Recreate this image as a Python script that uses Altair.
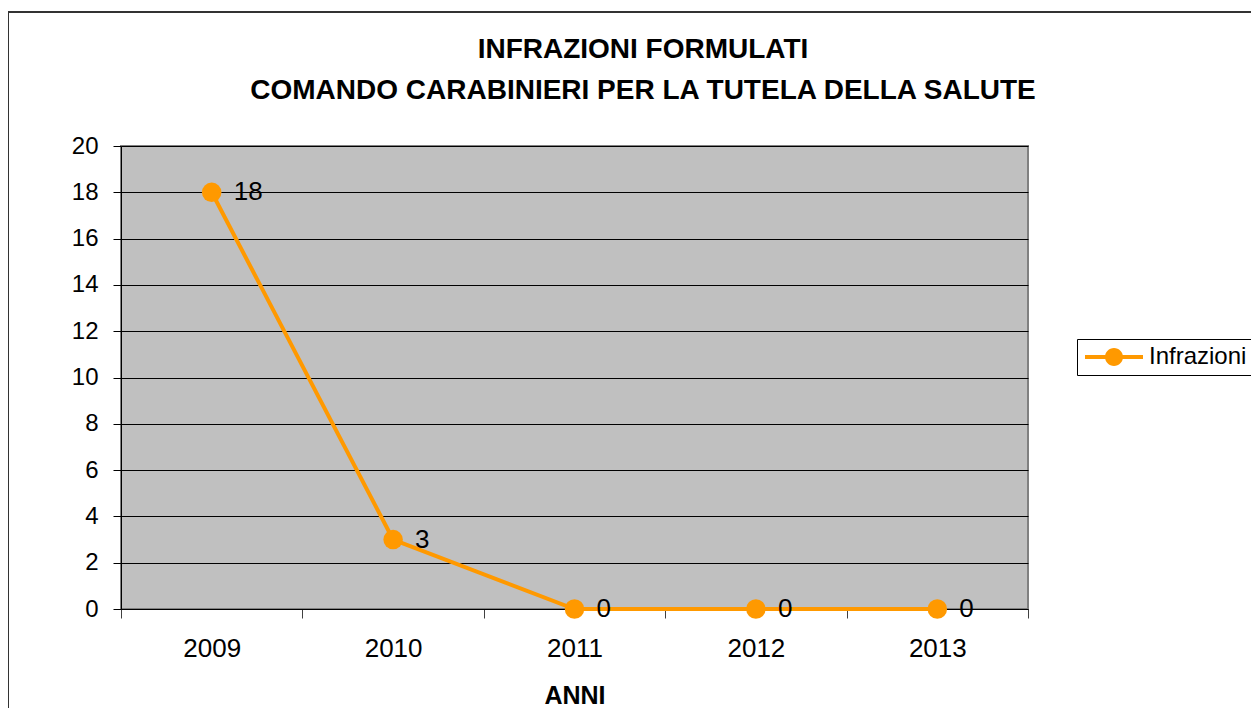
import altair as alt
import pandas as pd

years = ["2009", "2010", "2011", "2012", "2013"]
values = [18, 3, 0, 0, 0]
series_name = "Infrazioni"
title_lines = ["INFRAZIONI FORMULATI", "COMANDO CARABINIERI PER LA TUTELA DELLA SALUTE"]
x_title = "ANNI"
y_ticks = [0, 2, 4, 6, 8, 10, 12, 14, 16, 18, 20]

FONT = "Liberation Sans"
ORANGE = "#FF9900"

df = pd.DataFrame({"anno": years, "valore": values, "serie": [series_name] * len(years)})

x_enc = alt.X(
    "anno:O",
    sort=years,
    scale=alt.Scale(type="band", paddingInner=0, paddingOuter=0),
    axis=alt.Axis(
        title=x_title, labelAngle=0, tickBand="extent", tickSize=9, labelPadding=17,
        labelFontSize=26, titleFontSize=25, titleFontWeight="bold",
        titleBaseline="alphabetic", titleY=94,
        domainColor="#000000", tickColor="#404040", labelColor="#000000", titleColor="#000000",
        labelFont=FONT, titleFont=FONT, grid=False,
    ),
)
y_enc = alt.Y(
    "valore:Q",
    scale=alt.Scale(domain=[0, 20], nice=False),
    axis=alt.Axis(
        values=y_ticks, title=None, tickSize=8, labelPadding=15, labelFontSize=24,
        labelFont=FONT, labelColor="#000000", grid=True, gridColor="#000000", gridWidth=1,
        domainColor="#000000", tickColor="#000000",
    ),
)

SYMBOL = "M-1,-0.2 L4.8,-0.2 L4.8,0.2 L-1,0.2 Z M1,0 A0.9,0.9 0 1,1 2.8,0 A0.9,0.9 0 1,1 1,0 Z"

base = alt.Chart(df)

line = base.mark_line(color=ORANGE, strokeWidth=4).encode(x=x_enc, y=y_enc)

points = base.mark_circle(size=380, opacity=1).encode(
    x=x_enc,
    y=y_enc,
    color=alt.Color(
        "serie:N",
        scale=alt.Scale(domain=[series_name], range=[ORANGE]),
        legend=alt.Legend(
            title=None, orient="none", legendX=956, legendY=193,
            symbolType=SYMBOL, symbolSize=400, symbolStrokeWidth=0, symbolOpacity=1,
            labelFontSize=24, labelFont=FONT, labelColor="#000000", labelOffset=42,
            padding=6, strokeColor="#000000", fillColor="#FFFFFF", labelLimit=200,
        ),
    ),
)

labels = base.mark_text(align="left", baseline="middle", dx=22, fontSize=26, font=FONT, color="#000000").encode(
    x=x_enc, y=y_enc, text="valore:Q"
)

title1 = alt.Chart(pd.DataFrame({"t": [title_lines[0]]})).mark_text(
    fontSize=28, fontWeight="bold", font=FONT, align="center", baseline="alphabetic", color="#000000"
).encode(text="t:N", x=alt.value(522), y=alt.value(-88))

title2 = alt.Chart(pd.DataFrame({"t": [title_lines[1]]})).mark_text(
    fontSize=28, fontWeight="bold", font=FONT, align="center", baseline="alphabetic", color="#000000"
).encode(text="t:N", x=alt.value(522), y=alt.value(-47))

frame = alt.Chart(pd.DataFrame({"f": [0]})).mark_rect(
    fillOpacity=0, stroke="#333333", strokeWidth=2
).encode(x=alt.value(-113), x2=alt.value(1145), y=alt.value(-134), y2=alt.value(600))

chart = alt.layer(frame, title1, title2, line, points, labels).properties(
    width=907,
    height=463,
    autosize=alt.AutoSizeParams(type="none"),
    padding={"left": 113, "top": 138, "right": 223, "bottom": 99},
    background="#FFFFFF",
).configure_view(fill="#C0C0C0", stroke="#808080", strokeWidth=2)

chart.save("out.html", embed_options={"renderer": "svg", "actions": False})
